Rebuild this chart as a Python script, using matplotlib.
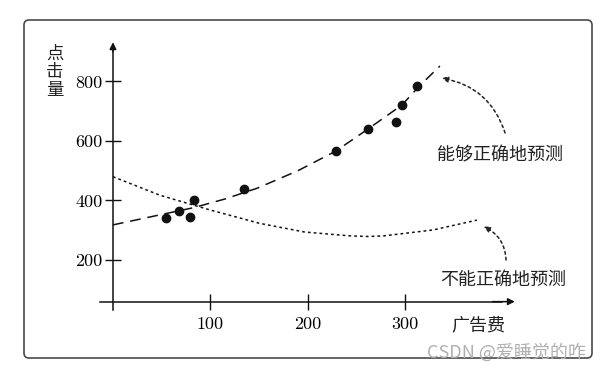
import matplotlib
matplotlib.use("Agg")
import matplotlib.pyplot as plt
from matplotlib.patches import FancyBboxPatch

# scatter points (ad spend, clicks)
spend = [54, 68, 79, 83, 135, 229, 262, 291, 297, 312]
clicks = [341, 364, 346, 400, 439, 565, 641, 664, 721, 785]

# curve (good fit)
good_x = [0, 40, 83, 115, 148, 190, 229, 262, 297, 315, 336]
good_y = [318, 346, 376, 405, 441, 500, 566, 640, 721, 785, 852]

# curve (bad fit)
bad_x = [0, 48, 100, 151, 197, 244, 262, 278, 329, 374]
bad_y = [480, 418, 368, 323, 294, 281, 279, 281, 301, 334]

xticks = [100, 200, 300]
yticks = [200, 400, 600, 800]

cjk = ["Noto Sans CJK SC", "DejaVu Sans"]

fig = plt.figure(figsize=(6.13, 3.71), dpi=100)
ax = fig.add_axes([0, 0, 1, 1])
ax.set_xlim(-116.1, 513.9)
ax.set_ylim(-173.1, 1073.9)

# rounded frame around everything
frame = FancyBboxPatch((0.24, 0.13), 5.68, 3.38, boxstyle="round,pad=0,rounding_size=0.05",
                       transform=fig.dpi_scale_trans, fill=False, ec="#4a4a4a", lw=1.2)
fig.patches.append(frame)

for s in ["top", "right"]:
    ax.spines[s].set_visible(False)
ax.spines["left"].set_position(("data", 0))
ax.spines["bottom"].set_position(("data", 60))
ax.spines["left"].set_bounds(32, 915)
ax.spines["bottom"].set_bounds(-13, 400)
for s in ["left", "bottom"]:
    ax.spines[s].set_linewidth(1.1)
    ax.spines[s].set_color("#111111")

ax.annotate("", xy=(0, 932), xytext=(0, 900),
            arrowprops=dict(arrowstyle="-|>", color="#111111", lw=1.1, mutation_scale=10,
                            shrinkA=0, shrinkB=0))
ax.annotate("", xy=(413, 60), xytext=(390, 60),
            arrowprops=dict(arrowstyle="-|>", color="#111111", lw=1.1, mutation_scale=10,
                            shrinkA=0, shrinkB=0))

ax.set_xticks(xticks)
ax.set_xticklabels([str(t) for t in xticks], family="cmr10", fontsize=13)
ax.set_yticks(yticks)
ax.set_yticklabels([str(t) for t in yticks], family="cmr10", fontsize=13)
ax.tick_params(axis="x", direction="inout", length=11, width=1, pad=5, color="#111111")
ax.tick_params(axis="y", direction="inout", length=11, width=1, pad=2, color="#111111")

ax.plot(good_x, good_y, color="#111111", lw=1.1, dashes=[7, 4.5])
ax.plot(bad_x, bad_y, color="#111111", lw=1.1, linestyle=(0, (1.8, 2)))
ax.plot(spend, clicks, "o", color="#111111", ms=6)

ax.text(-59.6, 832, "点\n击\n量", family=cjk, fontsize=12.5, ha="center", va="center",
        linespacing=1.0, color="#222222")
ax.text(375, -18, "广告费", family=cjk, fontsize=13, ha="center", va="center", color="#222222")

ax.text(398, 553, "能够正确地预测", family=cjk, fontsize=13, ha="center", va="center",
        color="#222222")
ax.text(401, 133, "不能正确地预测", family=cjk, fontsize=13, ha="center", va="center",
        color="#222222")

ax.annotate("", xy=(338, 811), xytext=(403, 627),
            arrowprops=dict(arrowstyle="-|>", color="#222222", lw=1.1, linestyle=(0, (1.8, 2)),
                            connectionstyle="arc3,rad=0.3", mutation_scale=9,
                            shrinkA=0, shrinkB=0))
ax.annotate("", xy=(381, 312), xytext=(404, 200),
            arrowprops=dict(arrowstyle="-|>", color="#222222", lw=1.1, linestyle=(0, (1.8, 2)),
                            connectionstyle="arc3,rad=0.3", mutation_scale=9,
                            shrinkA=0, shrinkB=0))

fig.text(0.697, 0.05, "CSDN @爱睡觉的咋", family=cjk, fontsize=13, color="#b0b0b0",
         ha="left", va="center")

fig.savefig("out.png", dpi=100)
